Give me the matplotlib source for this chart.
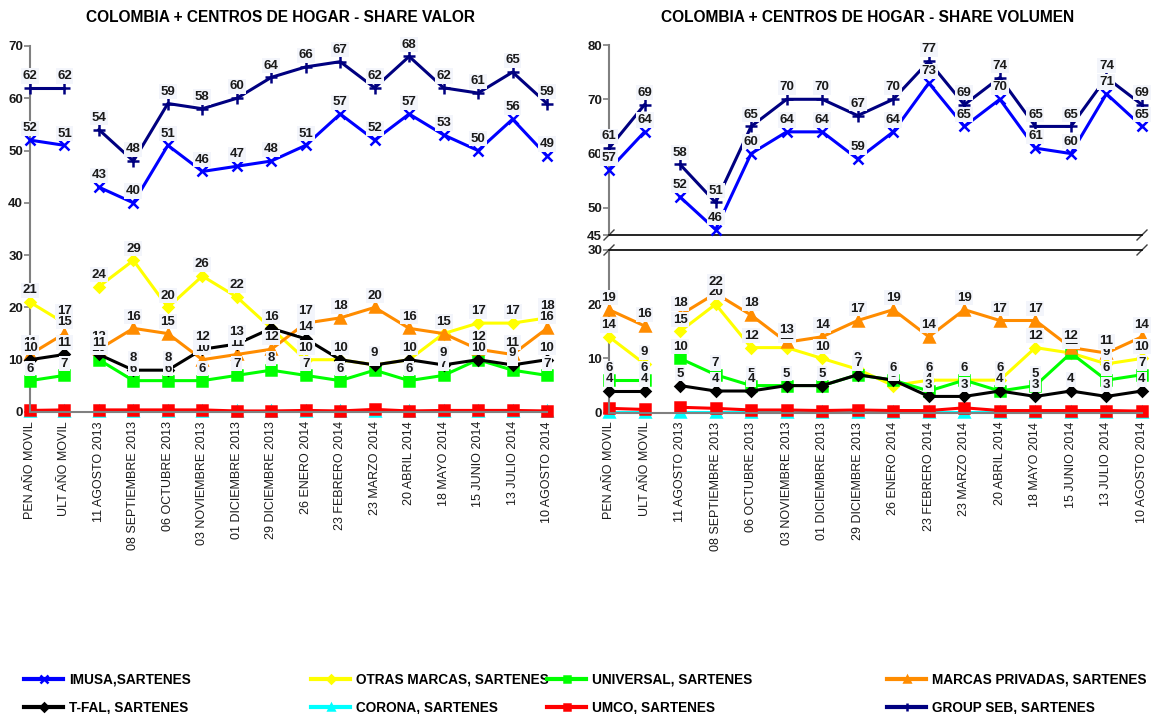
import numpy as np
import matplotlib.pyplot as plt
from matplotlib.lines import Line2D

plt.rcParams['font.family'] = ['Liberation Sans', 'DejaVu Sans']

cats = ['PEN AÑO MOVIL', 'ULT AÑO MOVIL', '11 AGOSTO 2013', '08 SEPTIEMBRE 2013',
        '06 OCTUBRE 2013', '03 NOVIEMBRE 2013', '01 DICIEMBRE 2013', '29 DICIEMBRE 2013',
        '26 ENERO 2014', '23 FEBRERO 2014', '23 MARZO 2014', '20 ABRIL 2014',
        '18 MAYO 2014', '15 JUNIO 2014', '13 JULIO 2014', '10 AGOSTO 2014']

# share valor
val_imusa = [52, 51, 43, 40, 51, 46, 47, 48, 51, 57, 52, 57, 53, 50, 56, 49]
val_seb = [62, 62, 54, 48, 59, 58, 60, 64, 66, 67, 62, 68, 62, 61, 65, 59]
val_otras = [21, 17, 24, 29, 20, 26, 22, 16, 10, 10, 9, 10, 15, 17, 17, 18]
val_univ = [6, 7, 10, 6, 6, 6, 7, 8, 7, 6, 8, 6, 7, 10, 8, 7]
val_priv = [11, 15, 12, 16, 15, 10, 11, 12, 17, 18, 20, 16, 15, 12, 11, 16]
val_tfal = [10, 11, 11, 8, 8, 12, 13, 16, 14, 10, 9, 10, 9, 10, 9, 10]
val_corona = [0.1] * 16
val_umco = [0.3, 0.4, 0.4, 0.4, 0.4, 0.4, 0.2, 0.2, 0.3, 0.2, 0.5, 0.2, 0.3, 0.3, 0.3, 0.2]

# share volumen
vol_imusa = [57, 64, 52, 46, 60, 64, 64, 59, 64, 73, 65, 70, 61, 60, 71, 65]
vol_seb = [61, 69, 58, 51, 65, 70, 70, 67, 70, 77, 69, 74, 65, 65, 74, 69]
vol_otras = [14, 9, 15, 20, 12, 12, 10, 8, 5, 6, 6, 6, 12, 11, 9, 10]
vol_univ = [6, 6, 10, 7, 5, 5, 5, 7, 6, 4, 6, 4, 5, 11, 6, 7]
vol_priv = [19, 16, 18, 22, 18, 13, 14, 17, 19, 14, 19, 17, 17, 12, 11, 14]
vol_tfal = [4, 4, 5, 4, 4, 5, 5, 7, 6, 3, 3, 4, 3, 4, 3, 4]
vol_corona = [0.1] * 16
vol_umco = [0.8, 0.6, 1.0, 0.8, 0.5, 0.5, 0.4, 0.5, 0.4, 0.4, 0.9, 0.4, 0.4, 0.4, 0.4, 0.3]

series = ['IMUSA,SARTENES', 'OTRAS MARCAS, SARTENES', 'UNIVERSAL, SARTENES',
          'MARCAS PRIVADAS, SARTENES', 'T-FAL, SARTENES', 'CORONA, SARTENES',
          'UMCO, SARTENES', 'GROUP SEB, SARTENES']
colors = ['#0000FF', '#FFFF00', '#00FF00', '#FF8C00', '#000000', '#00FFFF', '#FF0000', '#000080']
markers = ['x', 'D', 's', '^', 'D', '^', 's', '+']
msizes = [7, 5.5, 6.5, 6.5, 5.5, 6.5, 6.5, 8]

grey = '#808080'
x = np.arange(len(cats))


def draw(ax, y, i, labels=True, z=3):
    y = np.array(y, dtype=float)
    for sl in (slice(0, 2), slice(2, None)):
        ax.plot(x[sl], y[sl], color=colors[i], lw=2.2, marker=markers[i], ms=msizes[i],
                mew=1.8, clip_on=False, zorder=z)
    if labels:
        for xi, yi in zip(x, y):
            ax.annotate(f'{yi:.0f}', (xi, yi), xytext=(0, 8.5), textcoords='offset points',
                        ha='center', va='center', fontsize=9.5, fontweight='bold',
                        color='#1a1a1a', zorder=20 + z, annotation_clip=False,
                        bbox=dict(boxstyle='square,pad=0.12', fc='#F3F5FB', ec='none'))


def style(ax, lo, hi, ticks):
    ax.set_xlim(0, 15)
    ax.set_ylim(lo, hi)
    ax.set_yticks(ticks)
    ax.set_yticklabels([str(t) for t in ticks], fontweight='bold')
    for s in ['top', 'right']:
        ax.spines[s].set_visible(False)
    ax.spines['left'].set_color(grey)
    ax.spines['bottom'].set_color(grey)
    ax.spines['left'].set_linewidth(1.5)
    ax.spines['bottom'].set_linewidth(1.5)
    ax.tick_params(axis='y', colors=grey, length=4, width=1.2, labelcolor='#1a1a1a',
                   labelsize=9.5, pad=1)
    ax.set_xticks(x)
    ax.tick_params(axis='x', colors=grey, length=3, labelcolor='#1a1a1a', labelsize=9)
    ax.set_xticklabels(cats, rotation=90)
    ax.patch.set_alpha(0)


fig = plt.figure(figsize=(11.63, 7.14), dpi=100)

# ---- left: share valor
axL = fig.add_axes([30 / 1163, 302 / 714, 517 / 1163, 366 / 714])
style(axL, 0, 70, list(range(0, 80, 10)))
draw(axL, val_corona, 5, labels=False, z=2)
draw(axL, val_umco, 6, labels=False, z=2.5)
draw(axL, val_otras, 1, z=3)
draw(axL, val_univ, 2, z=3.1)
draw(axL, val_priv, 3, z=3.2)
draw(axL, val_tfal, 4, z=3.3)
draw(axL, val_imusa, 0, z=3.4)
draw(axL, val_seb, 7, z=3.5)

# ---- right: share volumen (broken axis)
W = 533
axT = fig.add_axes([609 / 1163, (714 - 235) / 714, W / 1163, 190 / 714])
axB = fig.add_axes([609 / 1163, (714 - 412.7) / 714, W / 1163, 162.7 / 714])
style(axT, 45, 80, [45, 50, 60, 70, 80])
style(axB, 0, 30, [0, 10, 20, 30])
axT.spines['bottom'].set_color('black')
axT.spines['bottom'].set_linewidth(1.2)
axT.tick_params(axis='x', bottom=False, labelbottom=False)
axB.spines['top'].set_visible(True)
axB.spines['top'].set_color('black')
axB.spines['top'].set_linewidth(1.2)

# break marks
for ax, h, yb in [(axT, 190, 0), (axB, 162.7, 1)]:
    dx, dy = 5 / W, 5 / h
    for xb in (0, 1):
        ax.plot([xb - dx, xb + dx], [yb - dy, yb + dy], transform=ax.transAxes,
                color='#404040', lw=1, clip_on=False)

draw(axB, vol_corona, 5, labels=False, z=2)
draw(axB, vol_umco, 6, labels=False, z=2.5)
draw(axB, vol_otras, 1, z=3)
draw(axB, vol_univ, 2, z=3.1)
draw(axB, vol_priv, 3, z=3.2)
draw(axB, vol_tfal, 4, z=3.3)
draw(axT, vol_imusa, 0, z=3.4)
draw(axT, vol_seb, 7, z=3.5)

fig.text(281 / 1163, 1 - 17 / 714, 'COLOMBIA + CENTROS DE HOGAR - SHARE VALOR',
         ha='center', va='center', fontsize=11.2, fontweight='bold')
fig.text(868 / 1163, 1 - 17 / 714, 'COLOMBIA + CENTROS DE HOGAR - SHARE VOLUMEN',
         ha='center', va='center', fontsize=11.2, fontweight='bold')

# legend: four columns, two rows
handles = [Line2D([], [], color=c, lw=3, marker=m, ms=ms * 0.75, mew=1.8)
           for c, m, ms in zip(colors, markers, msizes)]
text_x = [70, 357, 593, 933]
for k in range(4):
    fig.legend(handles=[handles[k], handles[k + 4]], labels=[series[k], series[k + 4]],
               loc='upper left', bbox_to_anchor=((text_x[k] - 46) / 1163, 1 - 673 / 714),
               frameon=False, borderpad=0, borderaxespad=0, handlelength=2.9,
               handletextpad=0.43, labelspacing=0.98,
               prop={'weight': 'bold', 'size': 9.8})

fig.savefig('out.png', dpi=100)
